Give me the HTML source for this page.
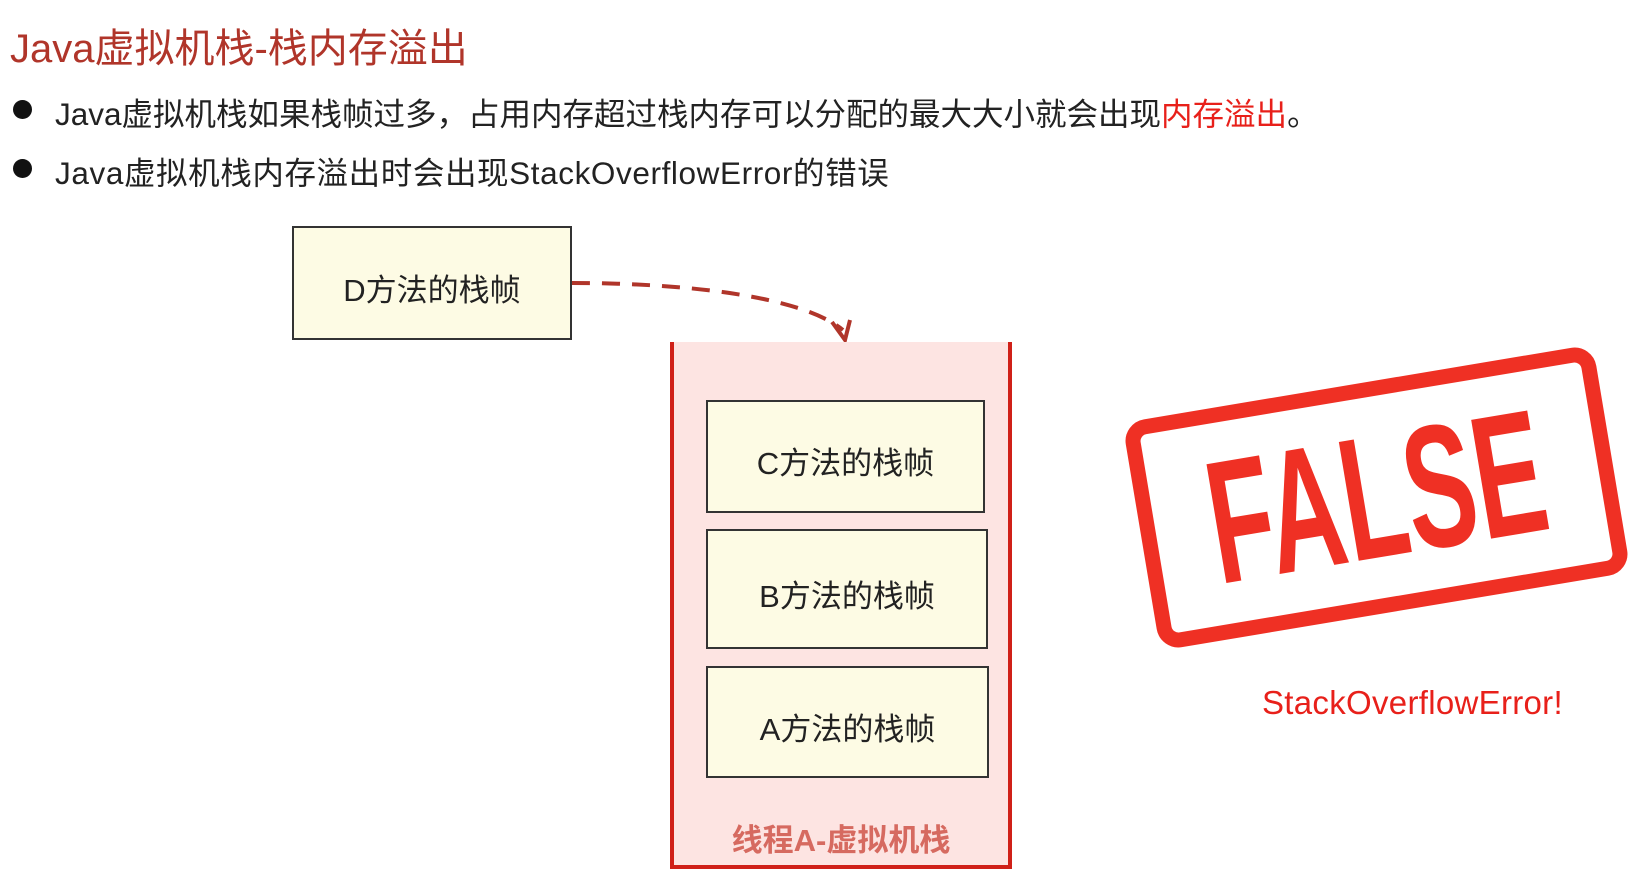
<!DOCTYPE html>
<html><head><meta charset="utf-8"><style>
body{margin:0;width:1650px;height:873px;background:#fff;position:relative;overflow:hidden;font-family:"Liberation Sans","Noto Sans CJK SC",sans-serif}
.a{position:absolute;white-space:nowrap}
.box{position:absolute;background:#fdfbe4;border:2px solid #333;box-sizing:border-box;display:flex;align-items:center;justify-content:center;font-size:31px;color:#222;padding-top:8px}
</style></head><body>
<div class="a" style="left:10px;top:16px;font-size:40px;color:#b0352a">Java虚拟机栈-栈内存溢出</div>
<div class="a" style="left:13px;top:100px;width:19px;height:19px;border-radius:50%;background:#111"></div>
<div class="a" style="left:55px;top:89px;font-size:31.5px;color:#222">Java虚拟机栈如果栈帧过多，占用内存超过栈内存可以分配的最大大小就会出现<span style="color:#e8201a">内存溢出</span>。</div>
<div class="a" style="left:13px;top:159px;width:19px;height:19px;border-radius:50%;background:#111"></div>
<div class="a" style="left:55px;top:148px;font-size:31.5px;color:#222;letter-spacing:0.6px">Java虚拟机栈内存溢出时会出现StackOverflowError的错误</div>
<div class="box" style="left:292px;top:226px;width:280px;height:114px">D方法的栈帧</div>
<svg class="a" style="left:0;top:0" width="1650" height="873">
<path d="M572 283 C 680 283, 800 295, 843 330" fill="none" stroke="#b0352a" stroke-width="4" stroke-dasharray="18 12"/>
<path d="M832 322 L845 340 L850 320" fill="none" stroke="#b0352a" stroke-width="4"/>
</svg>
<div class="a" style="left:670px;top:342px;width:342px;height:527px;background:#fde4e2;border:4px solid #d02018;border-top:none;box-sizing:border-box"></div>
<div class="box" style="left:706px;top:400px;width:279px;height:113px">C方法的栈帧</div>
<div class="box" style="left:706px;top:529px;width:282px;height:120px">B方法的栈帧</div>
<div class="box" style="left:706px;top:666px;width:283px;height:112px">A方法的栈帧</div>
<div class="a" style="left:670px;width:342px;text-align:center;top:815px;font-size:31px;font-weight:bold;color:#d66a60">线程A-虚拟机栈</div>
<div class="a" style="left:1138px;top:382px;width:477px;height:231px;border:15px solid #ef3024;border-radius:22px;box-sizing:border-box;transform:rotate(-9.5deg)">
<div style="position:absolute;left:-200px;right:-200px;top:8px;text-align:center;font-size:175px;line-height:185px;font-weight:bold;color:#ef3024;transform:scaleX(0.6)">FALSE</div>
</div>
<div class="a" style="left:1262px;top:684px;font-size:33px;color:#e8201a;letter-spacing:0.3px">StackOverflowError!</div>
</body></html>
